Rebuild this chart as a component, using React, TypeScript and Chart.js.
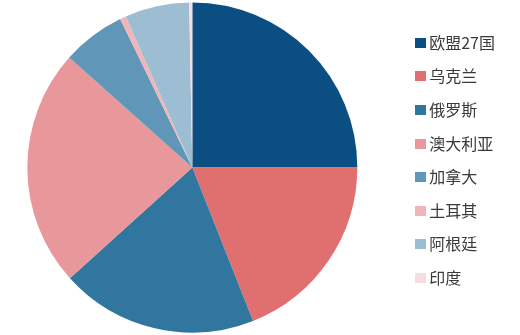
import React, { useEffect, useRef } from "react";
import { Chart, registerables } from "chart.js";

Chart.register(...registerables);

const categories = ["欧盟27国", "乌克兰", "俄罗斯", "澳大利亚", "加拿大", "土耳其", "阿根廷", "印度"];
const shares = [25.0, 19.0, 19.3, 23.3, 6.2, 0.6, 6.3, 0.3];
const sliceColors = ["#0b4f82", "#e0706f", "#31769e", "#e8979a", "#6097b8", "#f0b5b8", "#9dbdd3", "#f7dde0"];

function swatch(color: string): HTMLCanvasElement {
  const c = document.createElement("canvas");
  c.width = 11;
  c.height = 10;
  const g = c.getContext("2d")!;
  g.fillStyle = color;
  g.fillRect(0, 0, 11, 10);
  return c;
}

export default function App() {
  const ref = useRef<HTMLCanvasElement | null>(null);

  useEffect(() => {
    if (!ref.current) return;
    const swatches = sliceColors.map(swatch);
    const chart = new Chart(ref.current, {
      type: "pie",
      data: {
        labels: categories,
        datasets: [
          {
            data: shares,
            backgroundColor: sliceColors,
            borderWidth: 0,
            radius: 165,
            clip: false,
          } as any,
        ],
      },
      options: {
        animation: false,
        responsive: true,
        maintainAspectRatio: false,
        layout: { padding: { left: 0, right: -3, top: 0, bottom: 0 } },
        plugins: {
          tooltip: { enabled: false },
          legend: {
            position: "right",
            align: "start",
            title: {
              display: true,
              text: "",
              font: { size: 10, lineHeight: 1 },
              padding: { top: 7.1, bottom: 0 },
            },
            labels: {
              usePointStyle: true,
              boxWidth: 1,
              padding: 17.6,
              color: "#3a3a3a",
              font: { family: "'Noto Sans CJK SC', 'Noto Sans', sans-serif", size: 16 },
              generateLabels: () =>
                categories.map((text, i) => ({
                  text,
                  fillStyle: sliceColors[i],
                  strokeStyle: sliceColors[i],
                  lineWidth: 0,
                  pointStyle: swatches[i],
                  hidden: false,
                  index: i,
                  fontColor: "#3a3a3a",
                })),
            },
          },
        },
      },
    });
    return () => chart.destroy();
  }, []);

  return (
    <div style={{ position: "fixed", left: -18, top: 0, width: 520, height: 335, background: "#fff" }}>
      <canvas ref={ref} />
    </div>
  );
}
